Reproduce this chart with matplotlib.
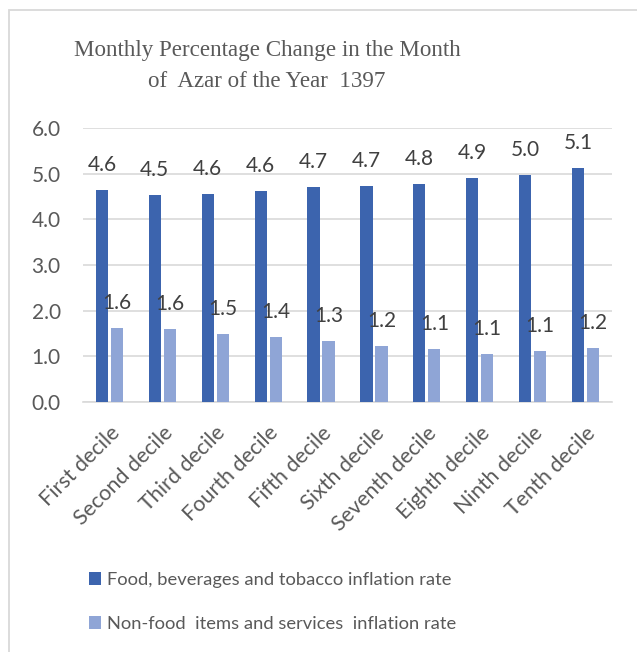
import numpy as np
import matplotlib
matplotlib.use("Agg")
from matplotlib import pyplot as plt
from matplotlib.patches import Rectangle

categories = ["First decile", "Second decile", "Third decile", "Fourth decile",
              "Fifth decile", "Sixth decile", "Seventh decile", "Eighth decile",
              "Ninth decile", "Tenth decile"]
food = [4.64, 4.53, 4.56, 4.61, 4.71, 4.73, 4.77, 4.91, 4.96, 5.12]
nonfood = [1.61, 1.59, 1.48, 1.42, 1.34, 1.23, 1.15, 1.06, 1.12, 1.18]
food_labels = ["4.6", "4.5", "4.6", "4.6", "4.7", "4.7", "4.8", "4.9", "5.0", "5.1"]
nonfood_labels = ["1.6", "1.6", "1.5", "1.4", "1.3", "1.2", "1.1", "1.1", "1.1", "1.2"]
yticks = [0, 1, 2, 3, 4, 5, 6]

DARK = "#3C64AE"
LIGHT = "#8FA5D6"
GREY = "#595959"
GRID = "#D9D9D9"
SANS = ["Lato", "DejaVu Sans"]
SERIF = ["Liberation Serif", "DejaVu Serif"]

W, H = 637, 652
fig = plt.figure(figsize=(W / 100, H / 100), dpi=100)

# outer chart frame (cut off at right and bottom)
fig.patches.append(Rectangle((9 / W, -0.1), 2.0, 1.1 - 10 / H, transform=fig.transFigure,
                             fill=False, edgecolor=GRID, linewidth=1.3))

ax = fig.add_axes([83 / W, 1 - 402 / H, 529 / W, 274 / H])
x = np.arange(len(categories))
off = 0.142
bw = 0.23
b1 = ax.bar(x - off, food, bw, color=DARK, label="Food, beverages and tobacco inflation rate", zorder=3)
b2 = ax.bar(x + off, nonfood, bw, color=LIGHT, label="Non-food  items and services  inflation rate", zorder=3)

for xi, v, t in zip(x, food, food_labels):
    ax.annotate(t, (xi - off, v), xytext=(0, 18), textcoords="offset points",
                ha="center", va="center", fontsize=15, color="#404040", family=SANS)
for xi, v, t in zip(x, nonfood, nonfood_labels):
    ax.annotate(t, (xi + off, v), xytext=(0, 18), textcoords="offset points",
                ha="center", va="center", fontsize=15, color="#404040", family=SANS)

ax.set_xlim(-0.5, len(categories) - 0.5)
ax.set_ylim(0, 6)
ax.set_yticks(yticks)
ax.set_yticklabels([f"{v:.1f}" for v in yticks], fontsize=15, color=GREY, family=SANS)
ax.set_xticks(x)
ax.set_xticklabels(categories, rotation=45, ha="right", rotation_mode="anchor",
                   fontsize=15.5, color=GREY, family=SANS)
ax.tick_params(axis="both", length=0)
ax.tick_params(axis="y", pad=16)
ax.tick_params(axis="x", pad=15)
ax.grid(axis="y", color=GRID, linewidth=1.2, zorder=0)
for s in ["top", "right", "left"]:
    ax.spines[s].set_visible(False)
ax.spines["bottom"].set_color(GRID)
ax.spines["bottom"].set_linewidth(1.2)

fig.text(267 / W, 1 - 66 / H, "Monthly Percentage Change in the Month\nof  Azar of the Year  1397",
         ha="center", va="center", fontsize=16.6, color=GREY, family=SERIF, linespacing=1.62)

fig.legend(handles=[b1, b2], loc="upper left", bbox_to_anchor=(72 / W, 1 - 555 / H),
           frameon=False, prop={"family": SANS, "size": 13.2}, labelcolor=GREY,
           handlelength=0.7, handleheight=0.7, handletextpad=0.3, labelspacing=1.55)

fig.savefig("out.png", dpi=100)
